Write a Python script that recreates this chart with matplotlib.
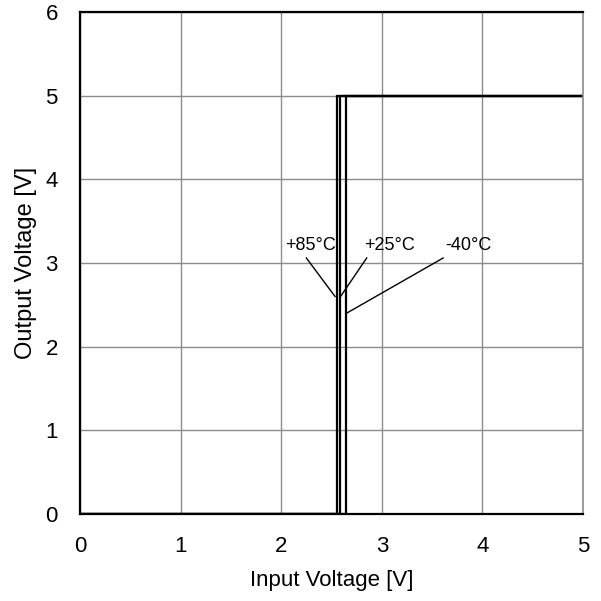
import matplotlib
matplotlib.use('Agg')
from matplotlib import pyplot as plt

plt.rcParams['font.family'] = ['Liberation Sans', 'DejaVu Sans']

# switching thresholds [V]
temps = ['+85°C', '+25°C', '-40°C']
thresholds = [2.55, 2.585, 2.645]
v_high = 5.0
v_in_max = 5.0

# leader lines: label anchor (x, y) and tip on the curve (x, y)
label_pos = [(2.29, 3.21), (3.08, 3.21), (3.86, 3.21)]
leader_start = [(2.25, 3.06), (2.85, 3.06), (3.61, 3.06)]
leader_end = [(2.535, 2.60), (2.59, 2.60), (2.65, 2.40)]

fig = plt.figure(figsize=(6.01, 6.01), dpi=100)
ax = fig.add_axes([80 / 601, 87 / 601, 503 / 601, 502 / 601])

for th in thresholds:
    ax.plot([0, th, th, v_in_max], [0, 0, v_high, v_high],
            color='black', linewidth=1.6, solid_joinstyle='miter')

for name, lp, ls, le in zip(temps, label_pos, leader_start, leader_end):
    ax.text(lp[0], lp[1], name, ha='center', va='center', fontsize=13)
    ax.plot([ls[0], le[0]], [ls[1], le[1]], color='black', linewidth=1)

ax.set_xlim(0, 5)
ax.set_ylim(0, 6)
ax.set_xticks(range(0, 6))
ax.set_yticks(range(0, 7))
ax.grid(True, color='#8c8c8c', linewidth=1)
ax.set_axisbelow(True)
ax.tick_params(length=0, labelsize=16)
ax.tick_params(axis='x', pad=15.5)
ax.tick_params(axis='y', pad=16)
for side in ['left', 'bottom', 'top']:
    ax.spines[side].set_linewidth(1.6)
ax.spines['right'].set_color('#8c8c8c')
ax.spines['right'].set_linewidth(1.2)

ax.set_xlabel('Input Voltage [V]', fontsize=16, labelpad=10)
ax.set_ylabel('Output Voltage [V]', fontsize=17, labelpad=6)

plt.savefig('out.png', dpi=100)
